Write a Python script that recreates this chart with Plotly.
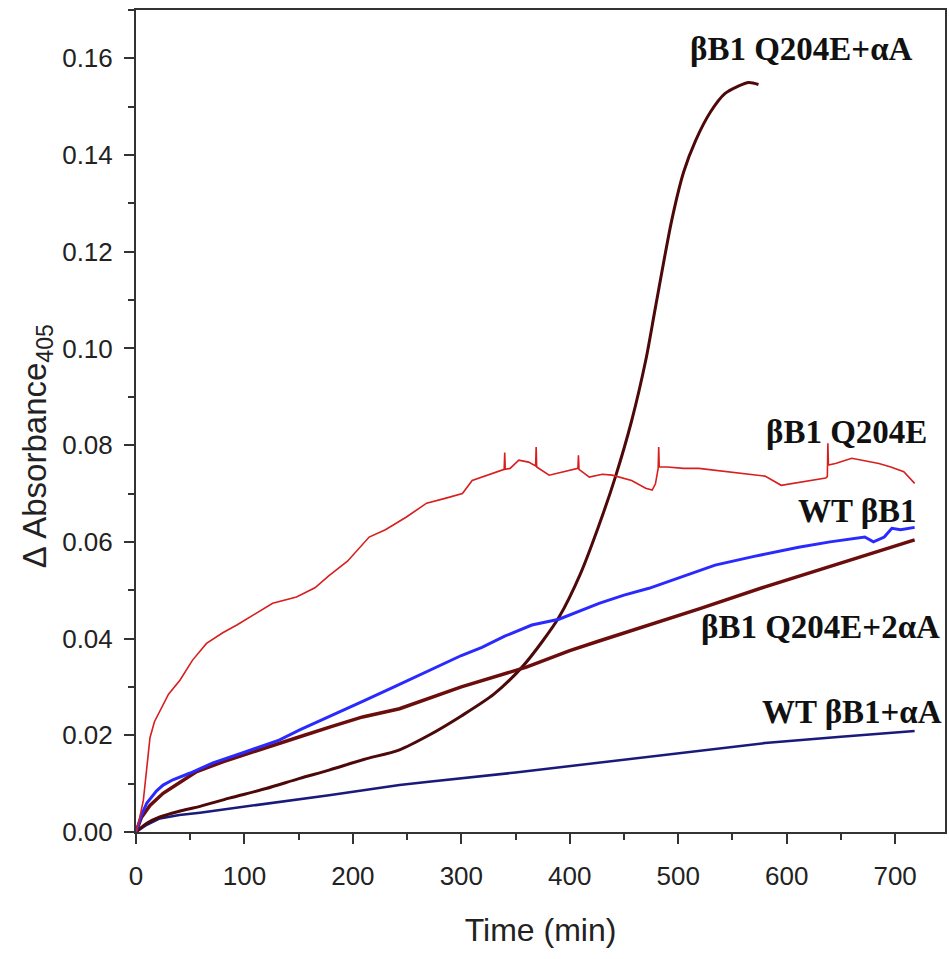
import plotly.graph_objects as go

# ---- data ----
red_x = [0, 3, 6.8, 9.8, 12.9, 17, 22, 30, 40.5, 52, 65, 80, 93, 110, 126, 148, 165, 178, 195, 215, 230, 249, 268, 285, 301, 310, 320, 335,
         339.5, 340, 340.5, 345, 353, 362, 368.5, 369, 369.5, 381, 395, 407.5, 408, 408.5, 418, 430, 439, 457, 470, 476, 479,
         481.5, 482, 482.5, 490, 505, 519, 535, 549, 565, 580, 595, 610, 625, 636, 637.5, 638, 638.5, 645, 660, 672, 685, 696, 708, 718]
red_y = [0, 0.0025, 0.0066, 0.0135, 0.0195, 0.0228, 0.0250, 0.0285, 0.0314, 0.0355, 0.0390, 0.0412, 0.0428, 0.0452, 0.0473, 0.0486, 0.0505, 0.0530, 0.0560, 0.0610, 0.0625, 0.0651, 0.0680, 0.0690, 0.0700, 0.0727, 0.0735, 0.0748,
         0.0750, 0.0785, 0.0750, 0.0752, 0.0769, 0.0765, 0.0757, 0.0796, 0.0755, 0.0738, 0.0745, 0.0752, 0.0779, 0.0750, 0.0734, 0.0740, 0.0738, 0.0727, 0.0711, 0.0707, 0.0720,
         0.0752, 0.0796, 0.0755, 0.0755, 0.0752, 0.0752, 0.0748, 0.0744, 0.0740, 0.0736, 0.0717, 0.0722, 0.0728, 0.0732, 0.0735, 0.0804, 0.0759, 0.0762, 0.0773, 0.0768, 0.0762, 0.0755, 0.0745, 0.0721]

blue_x = [0, 5, 10, 19, 25, 34, 50, 71, 100, 132, 151, 180, 209, 240, 273, 300, 319, 340, 365, 390, 427, 450, 473, 500, 534, 570, 611, 640, 672, 680, 690, 697, 705, 718]
blue_y = [0, 0.0035, 0.0060, 0.0085, 0.0097, 0.0108, 0.0122, 0.0143, 0.0165, 0.0190, 0.0211, 0.0240, 0.0270, 0.0302, 0.0337, 0.0365, 0.0382, 0.0405, 0.0428, 0.0440, 0.0473, 0.0490, 0.0504, 0.0525, 0.0552, 0.0570, 0.0589, 0.0600, 0.0610, 0.0600, 0.0610, 0.0628, 0.0625, 0.0630]

mut2a_x = [0, 5, 12.9, 25, 40, 56, 80, 100, 132, 151, 180, 209, 243, 270, 300, 360, 400, 427, 473, 520, 580, 640, 680, 718]
mut2a_y = [0, 0.0030, 0.0055, 0.0080, 0.0102, 0.0125, 0.0145, 0.0160, 0.0184, 0.0197, 0.0218, 0.0238, 0.0255, 0.0277, 0.0300, 0.0341, 0.0375, 0.0395, 0.0428, 0.0462, 0.0507, 0.0550, 0.0578, 0.0604]

mut1a_x = [0, 10, 22, 40, 59, 86, 120, 151, 178, 210, 243, 270, 300, 330, 356, 375, 390, 410, 427, 442, 457, 470, 479, 494, 505, 516, 530, 543, 555, 565, 574]
mut1a_y = [0, 0.0018, 0.0031, 0.0043, 0.0053, 0.0070, 0.0090, 0.0111, 0.0128, 0.0150, 0.0170, 0.0200, 0.0240, 0.0285, 0.0341, 0.0395, 0.0444, 0.0535, 0.0635, 0.0734, 0.0850, 0.0975, 0.1085, 0.1265, 0.1365, 0.1430, 0.1490, 0.1527, 0.1542, 0.1550, 0.1546]

wt1a_x = [0, 10, 22, 40, 59, 100, 150, 178, 243, 270, 350, 427, 500, 580, 650, 718]
wt1a_y = [0, 0.0015, 0.0028, 0.0035, 0.0040, 0.0052, 0.0068, 0.0076, 0.0097, 0.0104, 0.0123, 0.0143, 0.0163, 0.0184, 0.0197, 0.0209]

labels = ["βB1 Q204E+αA", "βB1 Q204E", "WT βB1", "βB1 Q204E+2αA", "WT βB1+αA"]
label_x = [614, 655, 665, 631, 660]
label_y = [0.1619, 0.0827, 0.0664, 0.0424, 0.0248]

x_ticks = [0, 100, 200, 300, 400, 500, 600, 700]
y_ticks = [0.00, 0.02, 0.04, 0.06, 0.08, 0.10, 0.12, 0.14, 0.16]

fig = go.Figure()
fig.add_trace(go.Scatter(x=wt1a_x, y=wt1a_y, mode="lines", line=dict(color="#1a1a7a", width=2.5), name="WT βB1+αA"))
fig.add_trace(go.Scatter(x=mut1a_x, y=mut1a_y, mode="lines", line=dict(color="#4d0909", width=3, shape="spline", smoothing=0.8), name="βB1 Q204E+αA"))
fig.add_trace(go.Scatter(x=mut2a_x, y=mut2a_y, mode="lines", line=dict(color="#6b0d0d", width=3.5), name="βB1 Q204E+2αA"))
fig.add_trace(go.Scatter(x=blue_x, y=blue_y, mode="lines", line=dict(color="#2a2aff", width=3), name="WT βB1"))
fig.add_trace(go.Scatter(x=red_x, y=red_y, mode="lines", line=dict(color="#d81e1e", width=1.6), name="βB1 Q204E"))

for t, xx, yy in zip(labels, label_x, label_y):
    fig.add_annotation(x=xx, y=yy, xref="x", yref="y", text="<b>%s</b>" % t, showarrow=False,
                       xanchor="center", yanchor="middle",
                       font=dict(family="Liberation Serif", size=33, color="#111111"))

fig.add_annotation(x=-0.123, y=0.47, xref="paper", yref="paper", text="Δ Absorbance<sub>405</sub>",
                   textangle=-90, showarrow=False, xanchor="center", yanchor="middle",
                   font=dict(family="Liberation Sans", size=33, color="#222222"))

axis_common = dict(showline=True, linecolor="#333333", linewidth=2, mirror=True, showgrid=False, zeroline=False,
                   ticks="outside", tickwidth=2, tickcolor="#333333", ticklen=10,
                   tickfont=dict(family="Liberation Sans", size=26, color="#222222"))

fig.update_xaxes(range=[0, 746], tickvals=x_ticks, ticktext=[str(v) for v in x_ticks],
                 minor=dict(ticks="outside", ticklen=6, tickwidth=2, tickcolor="#333333", dtick=50, tick0=0),
                 ticklabelstandoff=10,
                 title=dict(text="Time (min)", font=dict(family="Liberation Sans", size=32, color="#222222"), standoff=28),
                 **axis_common)
fig.update_yaxes(range=[0, 0.17], tickvals=y_ticks, ticktext=["%.2f" % v for v in y_ticks],
                 minor=dict(ticks="outside", ticklen=6, tickwidth=2, tickcolor="#333333", dtick=0.01, tick0=0),
                 ticklabelstandoff=6,
                 **axis_common)

fig.update_layout(width=949, height=959, margin=dict(l=136, r=2, t=10, b=127),
                  plot_bgcolor="white", paper_bgcolor="white", showlegend=False)

fig.write_html("out.html", config={"displayModeBar": False},
               post_script="document.body.style.margin='0';document.body.style.padding='0';document.body.style.overflow='hidden';")
